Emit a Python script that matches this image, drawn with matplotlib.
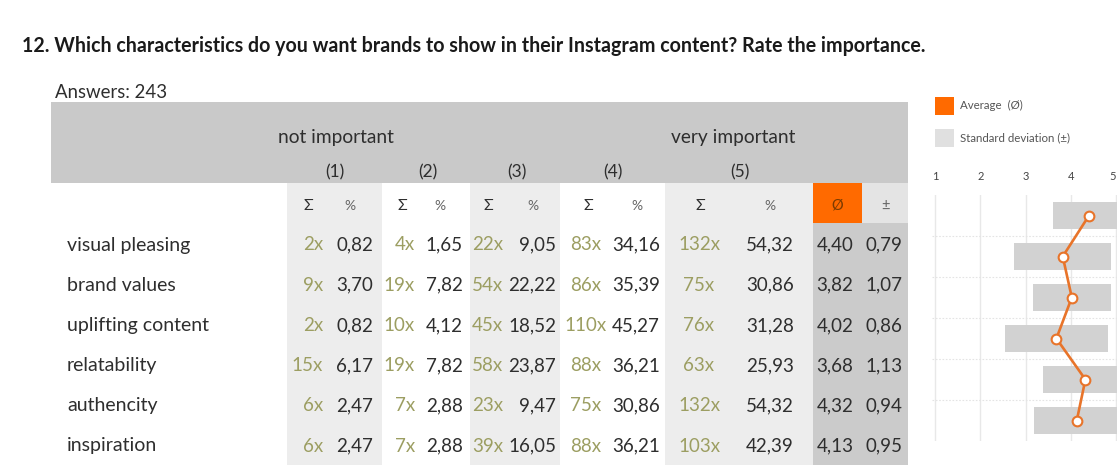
import matplotlib
matplotlib.use("Agg")
import matplotlib.pyplot as plt
from matplotlib.patches import Rectangle

plt.rcParams['font.family'] = ['Lato', 'DejaVu Sans']

# ---- survey data ----
title = "12. Which characteristics do you want brands to show in their Instagram content? Rate the importance."
answers = 243
characteristics = ["visual pleasing", "brand values", "uplifting content",
                   "relatability", "authencity", "inspiration"]
levels = ["(1)", "(2)", "(3)", "(4)", "(5)"]
counts_1 = [2, 9, 2, 15, 6, 6]
counts_2 = [4, 19, 10, 19, 7, 7]
counts_3 = [22, 54, 45, 58, 23, 39]
counts_4 = [83, 86, 110, 88, 75, 88]
counts_5 = [132, 75, 76, 63, 132, 103]
pct_1 = [0.82, 3.70, 0.82, 6.17, 2.47, 2.47]
pct_2 = [1.65, 7.82, 4.12, 7.82, 2.88, 2.88]
pct_3 = [9.05, 22.22, 18.52, 23.87, 9.47, 16.05]
pct_4 = [34.16, 35.39, 45.27, 36.21, 30.86, 36.21]
pct_5 = [54.32, 30.86, 31.28, 25.93, 54.32, 42.39]
means = [4.40, 3.82, 4.02, 3.68, 4.32, 4.13]
stds = [0.79, 1.07, 0.86, 1.13, 0.94, 0.95]
scale_ticks = [1, 2, 3, 4, 5]

counts = [counts_1, counts_2, counts_3, counts_4, counts_5]
pcts = [pct_1, pct_2, pct_3, pct_4, pct_5]

# ---- styling ----
ORANGE = "#ff6a00"
LINE_ORANGE = "#e8742a"
HEADER_GRAY = "#c9c9c9"
COL_SHADE = "#ededed"
STAT_GRAY = "#cbcbcb"
COUNT_COLOR = "#9c9e62"
TEXT = "#2e2e2e"

W, H = 1117, 470
fig = plt.figure(figsize=(W / 100, H / 100), dpi=100)

# canvas in pixel units for the table
bg = fig.add_axes([0, 0, 1, 1])
bg.set_xlim(0, W)
bg.set_ylim(H, 0)
bg.axis("off")


def fmt(v):
    return f"{v:.2f}".replace(".", ",")


bg.text(22, 46, title, fontsize=14.1, fontweight="bold", color="#1a1a1a",
        va="center", ha="left")
bg.text(55, 92, f"Answers: {answers}", fontsize=13.4, color=TEXT,
        va="center", ha="left")

# header band
bg.add_patch(Rectangle((51, 102), 908 - 51, 183 - 102, color=HEADER_GRAY, lw=0))
bg.text(336, 137, "not important", fontsize=13.8, color=TEXT, ha="center", va="center")
bg.text(733, 137, "very important", fontsize=13.8, color=TEXT, ha="center", va="center")
level_x = [335, 428, 517, 613, 740]
for lx, lab in zip(level_x, levels):
    bg.text(lx, 172, lab, fontsize=12.5, color=TEXT, ha="center", va="center")

# column backgrounds
col_edges = [287, 382, 470, 560, 665, 813]
for i in range(5):
    if i % 2 == 0:
        bg.add_patch(Rectangle((col_edges[i], 183), col_edges[i + 1] - col_edges[i],
                               465 - 183, color=COL_SHADE, lw=0))
bg.add_patch(Rectangle((813, 183), 49, 40, color=ORANGE, lw=0))
bg.add_patch(Rectangle((862, 183), 46, 40, color="#e4e4e4", lw=0))
bg.add_patch(Rectangle((813, 223), 95, 465 - 223, color=STAT_GRAY, lw=0))

# sub-header row
sum_x = [308, 402, 488, 588, 700]
pct_x = [350, 440, 533, 637, 770]
for sx, px in zip(sum_x, pct_x):
    bg.text(sx, 206, "Σ", fontsize=11.5, color=TEXT, ha="center", va="center")
    bg.text(px, 206, "%", fontsize=10, color="#666666", ha="center", va="center")
bg.text(837, 205, "Ø", fontsize=10.5, color="#7a3a00", ha="center", va="center")
bg.text(885, 206, "±", fontsize=10.5, color="#666666", ha="center", va="center")

# data rows
row_y = [245 + 40.2 * i for i in range(len(characteristics))]
count_anchor = [(323, "right"), (415, "right"), (503, "right"), (586, "center"), (699, "center")]
pct_anchor = [373, 463, 556, 660, 794]
for r, (name, y) in enumerate(zip(characteristics, row_y)):
    bg.text(67, y, name, fontsize=14, color=TEXT, ha="left", va="center")
    for c in range(5):
        cx, ha = count_anchor[c]
        bg.text(cx, y, f"{counts[c][r]}x", fontsize=13.5, color=COUNT_COLOR,
                ha=ha, va="center")
        bg.text(pct_anchor[c], y, fmt(pcts[c][r]), fontsize=13.5, color=TEXT,
                ha="right", va="center")
    bg.text(835, y, fmt(means[r]), fontsize=13.5, color=TEXT, ha="center", va="center")
    bg.text(884, y, fmt(stds[r]), fontsize=13.5, color=TEXT, ha="center", va="center")

# legend of the profile chart
bg.add_patch(Rectangle((935, 97), 19, 18, color=ORANGE, lw=0))
bg.add_patch(Rectangle((935, 129), 19, 18, color="#e0e0e0", lw=0))
bg.text(960, 105, "Average  (Ø)", fontsize=8.3, color="#555555", ha="left", va="center")
bg.text(960, 138, "Standard deviation (±)", fontsize=8.3, color="#555555", ha="left", va="center")

# ---- profile chart: mean with standard deviation band ----
unit = 45.3
ax_left_px, ax_top_px, ax_bot_px = 932, 195, 441
x_lo = 1 - (935 - ax_left_px) / unit
x_hi = 1 + (W - 935) / unit
ax = fig.add_axes([ax_left_px / W, (H - ax_bot_px) / H,
                   (W - ax_left_px) / W, (ax_bot_px - ax_top_px) / H])
ax.set_xlim(x_lo, x_hi)
n = len(characteristics)
ax.set_ylim(n - 0.5, -0.5)
rows = list(range(n))

for xv in scale_ticks:
    ax.axvline(xv, color="#e8e8e8", lw=1, zorder=0)
for k in range(n - 1):
    ax.axhline(k + 0.5, color="#e4e4e4", lw=0.8, ls=(0, (1.5, 1.5)), zorder=0)

lefts = [m - s for m, s in zip(means, stds)]
widths = [2 * s for s in stds]
ax.barh(rows, widths, left=lefts, height=0.66, color="#d2d2d2", lw=0, zorder=1)
ax.plot(means, rows, color=LINE_ORANGE, lw=1.9, marker="o", ms=7,
        mfc="white", mec=LINE_ORANGE, mew=1.5, zorder=3, clip_on=False)

ax.set_xticks(scale_ticks)
ax.set_xticklabels([str(t) for t in scale_ticks])
ax.xaxis.tick_top()
ax.tick_params(axis="x", length=0, pad=9, labelsize=8, labelcolor="#444444")
# keep the last scale label inside the right edge
ax.get_xticklabels()[-1].set_horizontalalignment("right")
ax.set_yticks([])
for sp in ax.spines.values():
    sp.set_visible(False)
ax.patch.set_alpha(0)

fig.savefig("out.png", dpi=100)
